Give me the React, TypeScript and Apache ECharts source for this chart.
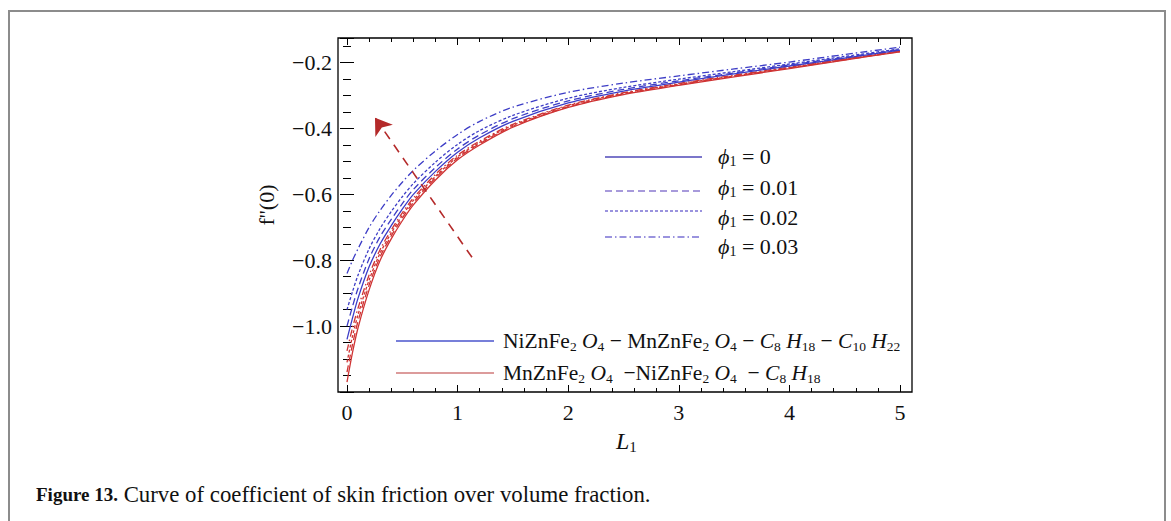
import React, { useEffect, useRef } from "react";
import * as echarts from "echarts";

// x values (L1)
const X_L1 = [0, 0.05, 0.1, 0.2, 0.3, 0.4, 0.5, 0.6, 0.8, 1.0, 1.2, 1.5, 2, 2.5, 3, 3.5, 4, 4.5, 5];

// NiZnFe2O4 - MnZnFe2O4 - C8H18 - C10H22 (blue), phi1 = 0, 0.01, 0.02, 0.03
const blue0 = [-1.04, -0.975, -0.915, -0.82, -0.75, -0.695, -0.645, -0.6, -0.53, -0.472, -0.428, -0.378, -0.322, -0.286, -0.259, -0.234, -0.21, -0.186, -0.162];
const blue1 = [-1.0, -0.94, -0.885, -0.795, -0.728, -0.676, -0.628, -0.585, -0.518, -0.462, -0.419, -0.37, -0.316, -0.281, -0.255, -0.231, -0.207, -0.184, -0.16];
const blue2 = [-0.95, -0.895, -0.845, -0.765, -0.703, -0.652, -0.607, -0.567, -0.502, -0.448, -0.406, -0.36, -0.308, -0.275, -0.25, -0.227, -0.204, -0.181, -0.158];
const blue3 = [-0.84, -0.8, -0.765, -0.7, -0.648, -0.603, -0.563, -0.527, -0.468, -0.418, -0.378, -0.335, -0.29, -0.262, -0.24, -0.219, -0.198, -0.175, -0.153];

// MnZnFe2O4 - NiZnFe2O4 - C8H18 (red), phi1 = 0, 0.01, 0.02, 0.03
const red0 = [-1.17, -1.08, -1.005, -0.89, -0.8, -0.735, -0.68, -0.632, -0.556, -0.495, -0.45, -0.396, -0.336, -0.297, -0.269, -0.243, -0.218, -0.192, -0.167];
const red1 = [-1.14, -1.055, -0.985, -0.875, -0.789, -0.726, -0.672, -0.625, -0.55, -0.49, -0.446, -0.393, -0.334, -0.295, -0.267, -0.241, -0.216, -0.191, -0.166];
const red2 = [-1.11, -1.03, -0.965, -0.86, -0.778, -0.717, -0.664, -0.618, -0.545, -0.486, -0.442, -0.39, -0.331, -0.293, -0.265, -0.24, -0.215, -0.19, -0.165];
const red3 = [-1.075, -1.005, -0.945, -0.845, -0.767, -0.708, -0.656, -0.611, -0.539, -0.481, -0.438, -0.387, -0.329, -0.291, -0.263, -0.238, -0.213, -0.189, -0.164];

const phiLabels = ["0", "0.01", "0.02", "0.03"];
const xTickLabels = ["0", "1", "2", "3", "4", "5"];
const yTickValues = [-1.0, -0.8, -0.6, -0.4, -0.2];

// arrow annotation (data coordinates): from -> to
const arrowFrom = [1.13, -0.791];
const arrowTo = [0.253, -0.367];

const BLUE = "#3d3dc6";
const RED = "#cf3434";
const FONT = "'Liberation Serif', 'Times New Roman', serif";

const dashTypes: any[] = ["solid", [7, 4], [3, 2], [7, 3, 1.5, 3]];

export default function App() {
  const ref = useRef<HTMLDivElement>(null);

  useEffect(() => {
    if (!ref.current) return;
    const chart = echarts.init(ref.current, undefined, { renderer: "svg" });

    const mk = (vals: number[], color: string, k: number, name: string) => ({
      type: "line",
      name,
      data: X_L1.map((x, i) => [x, vals[i]]),
      showSymbol: false,
      smooth: 0.3,
      xAxisIndex: 0,
      yAxisIndex: 0,
      lineStyle: { color, width: 1.3, type: dashTypes[k] },
      z: 3,
    });

    const series: any[] = [
      mk(red0, RED, 0, "red0"),
      mk(red1, RED, 1, "red1"),
      mk(red2, RED, 2, "red2"),
      mk(red3, RED, 3, "red3"),
      mk(blue0, BLUE, 0, "blue0"),
      mk(blue1, BLUE, 1, "blue1"),
      mk(blue2, BLUE, 2, "blue2"),
      mk(blue3, BLUE, 3, "blue3"),
      {
        type: "lines",
        coordinateSystem: "cartesian2d",
        xAxisIndex: 0,
        yAxisIndex: 0,
        symbol: ["none", "arrow"],
        symbolSize: 16,
        lineStyle: { color: "#b42a2a", width: 1.6, type: [9, 7], opacity: 1 },
        data: [{ coords: [arrowFrom, arrowTo] }],
        z: 4,
      },
    ];

    const phiLegendColors = ["#4f48b8", "#8a7ad0", "#7a70d4", "#7a70d4"];
    const phiLineY = [157, 191, 211, 237];
    const phiTextY = [156, 187, 217, 246];
    const rich: any = {
      i: { fontFamily: FONT, fontStyle: "italic", fontSize: 22, fill: "#111", lineHeight: 24 },
      n: { fontFamily: FONT, fontSize: 22, fill: "#111", lineHeight: 24 },
      s: { fontFamily: FONT, fontSize: 14, fill: "#111", lineHeight: 14, verticalAlign: "bottom" },
    };
    const graphics: any[] = [];
    phiLabels.forEach((lab, k) => {
      graphics.push({
        type: "line",
        shape: { x1: 605, y1: phiLineY[k], x2: 702, y2: phiLineY[k] },
        style: {
          stroke: phiLegendColors[k],
          lineWidth: 1.4,
          lineDash: dashTypes[k] === "solid" ? null : dashTypes[k],
        },
        z: 10,
      });
      graphics.push({
        type: "text",
        x: 718,
        y: phiTextY[k],
        style: {
          text: `{i|ϕ}{s|1}{n| = ${lab}}`,
          rich,
          verticalAlign: "middle",
          align: "left",
        },
        z: 10,
      });
    });

    const rich2: any = {
      n: { fontFamily: FONT, fontSize: 21.5, fill: "#111", lineHeight: 24 },
      i: { fontFamily: FONT, fontStyle: "italic", fontSize: 21.5, fill: "#111", lineHeight: 24 },
      s: { fontFamily: FONT, fontSize: 13.5, fill: "#111", lineHeight: 14, verticalAlign: "bottom" },
    };
    graphics.push(
      {
        type: "line",
        shape: { x1: 396, y1: 341, x2: 494, y2: 341 },
        style: { stroke: "#4a55cc", lineWidth: 1.4 },
        z: 10,
      },
      {
        type: "line",
        shape: { x1: 396, y1: 373, x2: 494, y2: 373 },
        style: { stroke: "#d07a7a", lineWidth: 1.4 },
        z: 10,
      },
      {
        type: "text",
        x: 503,
        y: 341,
        style: {
          text: "{n|NiZnFe}{s|2}{n| }{i|O}{s|4}{n| − MnZnFe}{s|2}{n| }{i|O}{s|4}{n| − }{i|C}{s|8}{n| }{i|H}{s|18}{n| − }{i|C}{s|10}{n| }{i|H}{s|22}",
          rich: rich2,
          verticalAlign: "middle",
        },
        z: 10,
      },
      {
        type: "text",
        x: 503,
        y: 373,
        style: {
          text: "{n|MnZnFe}{s|2}{n| }{i|O}{s|4}{n|  −NiZnFe}{s|2}{n| }{i|O}{s|4}{n|  − }{i|C}{s|8}{n| }{i|H}{s|18}",
          rich: rich2,
          verticalAlign: "middle",
        },
        z: 10,
      },
      // plot frame
      {
        type: "rect",
        shape: { x: 338, y: 38, width: 574, height: 354 },
        style: { fill: "none", stroke: "#000", lineWidth: 1.3 },
        z: 5,
      },
      // outer figure border
      {
        type: "rect",
        shape: { x: 9, y: 11, width: 1156, height: 530 },
        style: { fill: "none", stroke: "#8c8c8c", lineWidth: 2 },
        z: 1,
      },
      // y axis name
      {
        type: "text",
        x: 266,
        y: 205,
        rotation: Math.PI / 2,
        style: {
          text: "f''(0)",
          fontFamily: FONT,
          fontSize: 22,
          fill: "#111",
          align: "center",
          verticalAlign: "middle",
        },
        z: 10,
      },
      // x axis name
      {
        type: "text",
        x: 616,
        y: 441,
        style: {
          text: "{i|L}{s|1}",
          rich: {
            i: { fontFamily: FONT, fontStyle: "italic", fontSize: 24, fill: "#111", lineHeight: 26 },
            s: { fontFamily: FONT, fontSize: 15, fill: "#111", lineHeight: 15, verticalAlign: "bottom" },
          },
          verticalAlign: "middle",
        },
        z: 10,
      },
      // caption
      {
        type: "text",
        x: 36,
        y: 494,
        style: {
          text: "{b|Figure 13.}{n| Curve of coefficient of skin friction over volume fraction.}",
          rich: {
            b: { fontFamily: FONT, fontWeight: "bold", fontSize: 19, fill: "#111" },
            n: { fontFamily: FONT, fontSize: 22.8, fill: "#111" },
          },
          verticalAlign: "middle",
        },
        z: 10,
      }
    );

    const tickCommon = {
      axisTick: { show: true, inside: true, length: 7, lineStyle: { color: "#000", width: 1 } },
      minorTick: { show: true, length: 4, lineStyle: { color: "#000", width: 1 } },
      splitLine: { show: false },
      minorSplitLine: { show: false },
      axisLine: { show: false },
    };

    chart.setOption({
      animation: false,
      backgroundColor: "#fff",
      grid: { left: 347, right: 271, top: 38, bottom: 129, containLabel: false },
      xAxis: [
        {
          type: "value",
          min: 0,
          max: 5,
          interval: 1,
          position: "bottom",
          ...tickCommon,
          minorTick: { ...tickCommon.minorTick, splitNumber: 5 },
          axisLabel: {
            show: true,
            margin: 9,
            fontFamily: FONT,
            fontSize: 22,
            color: "#111",
            formatter: (v: number) => {
              const idx = Math.round(v);
              return Math.abs(v - idx) < 1e-6 ? xTickLabels[idx] ?? "" : "";
            },
          },
        },
        {
          type: "value",
          min: 0,
          max: 5,
          interval: 1,
          position: "top",
          ...tickCommon,
          minorTick: { ...tickCommon.minorTick, splitNumber: 5 },
          axisLabel: { show: false },
        },
      ],
      yAxis: [
        {
          type: "value",
          min: -1.2,
          max: -0.125,
          interval: 0.2,
          position: "left",
          offset: 9,
          ...tickCommon,
          minorTick: { ...tickCommon.minorTick, splitNumber: 4 },
          axisLabel: {
            show: true,
            margin: 6,
            fontFamily: FONT,
            fontSize: 22,
            color: "#111",
            formatter: (v: number) => {
              const hit = yTickValues.find((t) => Math.abs(t - v) < 1e-6);
              if (hit === undefined) return "";
              return "−" + Math.abs(hit).toFixed(1);
            },
          },
        },
        {
          type: "value",
          min: -1.2,
          max: -0.125,
          interval: 0.2,
          position: "right",
          offset: 12,
          ...tickCommon,
          minorTick: { ...tickCommon.minorTick, splitNumber: 4 },
          axisLabel: { show: false },
        },
      ],
      series,
      graphic: graphics,
    });

    return () => chart.dispose();
  }, []);

  return (
    <div
      ref={ref}
      style={{ position: "absolute", left: 0, top: 0, width: 1171, height: 521, background: "#fff" }}
    />
  );
}
